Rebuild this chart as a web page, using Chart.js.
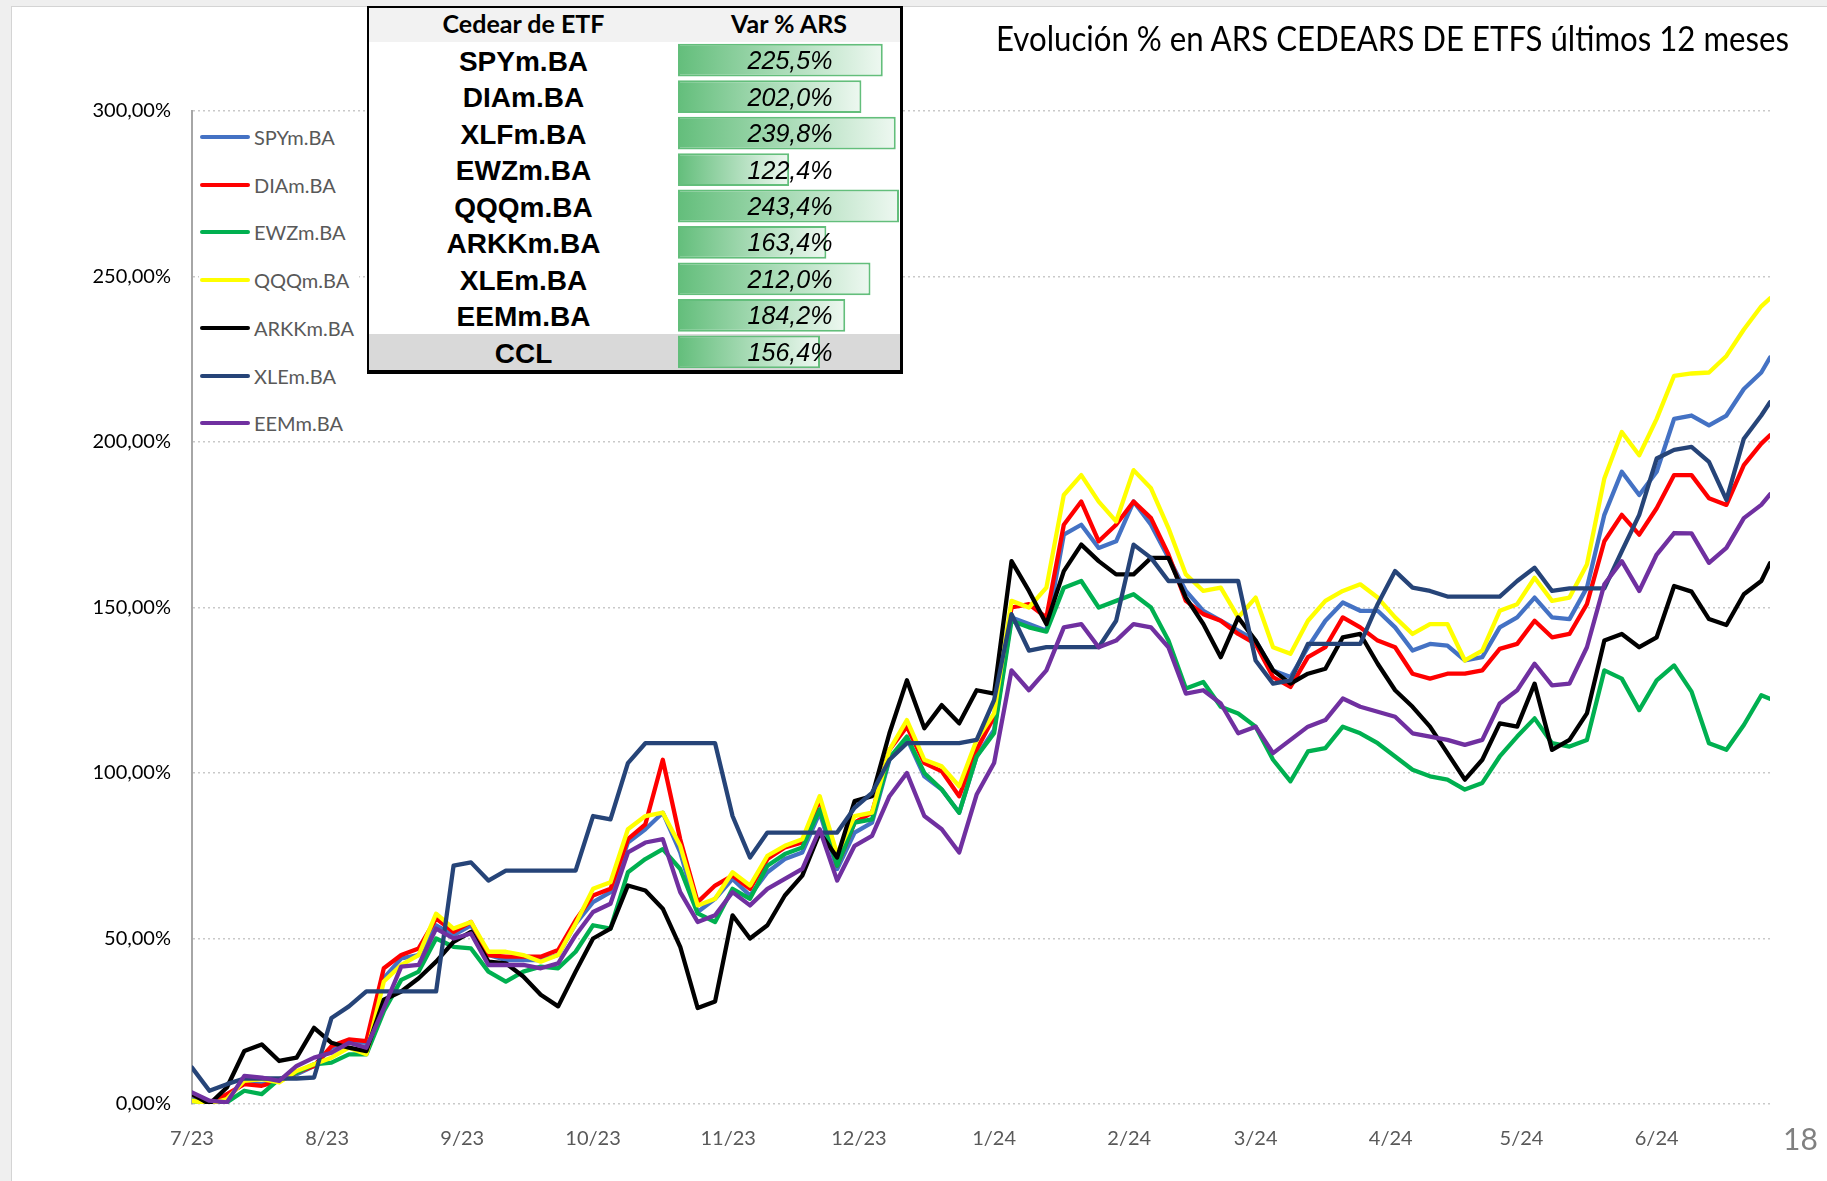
<!DOCTYPE html>
<html><head><meta charset="utf-8">
<script src="https://cdn.jsdelivr.net/npm/chart.js@4.4.1/dist/chart.umd.min.js"></script>
<style>
html,body{margin:0;padding:0;width:1827px;height:1181px;overflow:hidden;background:#efefef;}
#slide{position:absolute;left:11px;top:6px;width:1816px;height:1175px;background:#fff;border-left:1px solid #d4d4d4;border-top:1px solid #d4d4d4;}
#chart{position:absolute;left:0;top:0;z-index:1;}
#legend{position:absolute;left:199px;top:118px;width:160px;height:322px;background:#fff;z-index:2;}
.lg{position:absolute;left:0;height:24px;width:160px;}
.lg span.ln{position:absolute;left:1px;top:10px;width:50px;height:4px;border-radius:2px;}
.lg span.tx{position:absolute;left:55px;top:0;font:20px Lato,"Open Sans",sans-serif;color:#595959;line-height:24px;white-space:nowrap;}
#tbl{position:absolute;left:367px;top:6px;width:536px;height:368px;box-sizing:border-box;border:2px solid #000;border-right-width:3px;border-bottom-width:4px;background:#fff;z-index:2;}
#tbl .hdr{position:absolute;left:0;top:0;width:531px;height:34px;background:#f2f2f2;}
#tbl .hdr div{position:absolute;top:0;height:34px;line-height:34px;text-align:center;font:bold 25px Lato,"Open Sans",sans-serif;color:#000;}
#tbl .row{position:absolute;left:0;width:531px;}
#tbl .row .nm{position:absolute;left:0;top:0;width:309px;height:100%;text-align:center;font:bold 28px "Liberation Sans",Arial,sans-serif;color:#000;}
#bars{position:absolute;left:309px;top:34px;}
#title{position:absolute;left:996px;top:16px;font:35px Lato,"Open Sans",sans-serif;color:#000;white-space:nowrap;transform-origin:0 0;z-index:2;}
#pagenum{position:absolute;left:1783px;top:1120px;font:30px Lato,"Open Sans",sans-serif;color:#808080;z-index:2;}
</style></head><body>
<div id="slide"></div>
<canvas id="chart" width="1827" height="1181"></canvas>
<div id="legend"></div>
<div id="tbl"><div class="hdr"><div style="left:0;width:309px">Cedear de ETF</div><div style="left:309px;width:222px">Var % ARS</div></div><canvas id="bars" width="222" height="328"></canvas></div>
<div id="title">Evolución % en ARS CEDEARS DE ETFS últimos 12 meses</div>
<div id="pagenum">18</div>
<script>
// ---- data ----
const days = [0,4,8,12,16,20,24,28,32,36,40,44,48,52,56,60,64,68,72,76,80,84,88,92,96,100,104,108,112,116,120,124,128,132,136,140,144,148,152,156,160,164,168,172,176,180,184,188,192,196,200,204,208,212,216,220,224,228,232,236,240,244,248,252,256,260,264,268,272,276,280,284,288,292,296,300,304,308,312,316,320,324,328,332,336,340,344,348,352,356,360,362];
const monthStarts = [0,31,62,92,123,153,184,215,244,275,305,336];
const monthLabels = ['7/23','8/23','9/23','10/23','11/23','12/23','1/24','2/24','3/24','4/24','5/24','6/24'];
const seriesNames = ['SPYm.BA','DIAm.BA','EWZm.BA','QQQm.BA','ARKKm.BA','XLEm.BA','EEMm.BA'];
const seriesColors = ['#4472C4','#FF0000','#00B050','#FFFF00','#000000','#264478','#7030A0'];

const spy = [2,0,2,6.5,6,7,9,11.5,17,19,18.5,38,44,45,54,51,
 54,45,43.5,43.5,43.5,45,54.5,61,64,79,83,88,76,58,62,
 68,63,70,74,76,88,71,82,85,104,110.5,99,95,88,105,113,
 147,145,143,172,175,168,170,182,175,165,155,149,146,143,140,131,
 129,138,146,151.5,149,149,144,137,139,138.5,134,135,144,
 147,153,147,146.5,156,178,191,184,191,207,208,205,208,216,221,225.5];
const dia = [3,0,3,6,5.5,7,9.5,11.5,17.5,19.5,19,41,45,47,56,52,
 55,45,44.5,44.5,44.5,46.5,55.5,63,65,80,84.5,104,80,61,66,
 69,65,74,77.5,79,92,72,85,88,107,114,103,100.5,93,107,117,
 150,151,147,175,182,170,175,182,177,166,152,148,146,142,139,129,
 126,135,138,147,144,140,138,130,128.5,130,130,131,137.5,
 139,146,141,142,151,170,178,172,180,190,190,183,181,193,199.5,202];
const ewz = [1,0,0.5,4,3,7.5,9.5,12,12.5,15,15,28,37.5,40,50,47.5,
 47,40,37,40,41.5,41,46,54,53,70,74,77,71,57.6,55,
 65,62,72,75.5,77.5,89,72,85,86,104.5,111,100,95,88,105,112,
 146,144,142.7,156,158,150,152,154,150,140,125.5,127.5,120,118,114,104,
 97.5,106.5,107.5,114,112,109,105,101,99,98,95,97,105,
 111,116.5,109,108,110,131,128.5,119,128,132.5,124.6,109,107,114.5,123.5,122.4];
const qqq = [1,0,1.5,7,7.5,6.5,10,12,14,17,15,37,42,45,57.5,53,
 55,46,46,45,43,45,54.5,65,67,83,87,88,78,60,62,
 70,66,75,78,80,93,75.5,87,88,107,116,104,102,96,110,118,
 152,150,156,184,190,182,176,191.5,186,174,160,155,156,147,153,138,
 136,146,152,155,157,153,147,142,145,145,134,137,149,
 151,159,152,153,163,189,203,196,207,220,220.7,221,226,234,241,243.4];
const arkk = [3,0,5,16,18,13,14,23,18.5,17,16,31.5,34,38,43,49,
 52,43,42.5,38.5,33,29.5,40,50,53,66,64.5,59,47.5,29,31,
 57,50,54,63,69,82,74.5,91.5,93,112,128,113.5,120.5,115,125,124,
 164,155,145,161,169,164,160,160,165,165,153,145,135,147,140,131,
 127,130,131.5,141,142,133,125,120,114,106,98,104,115,
 114,127,107,110,118,140,142,138,141,156.5,154.8,146.5,144.7,154,158,163.4];
const xle = [11,4,6,7.7,7.7,7.7,7.7,8,26,29.5,34,34,34,34,34,72,
 73,67.5,70.5,70.5,70.5,70.5,70.5,87,86,103,109,109,109,109,109,
 87,74.5,82,82,82,82,82,89.5,94,104,109,109,109,109,110,122,
 148,137,138,138,138,138,146,169,165,158,158,158,158,158,134,127,
 128,139,139,139,139,151,161,156,155,153.3,153.3,153.3,153.3,
 158,162,155,155.8,155.8,155.8,167,178,195,197.6,198.5,194,182.5,201,208,212];
const eem = [3.5,1,0.5,8.5,8,7,11.5,14,15.5,18.5,17,29,41.5,42,53,50,
 51.5,42,42,42,41,42.5,51,58,60.5,76,79,80,64,55,57,
 64,60,65,68,71,83,67.5,78,81,93,100,87,83,76,93.5,103,
 131,125,131,144,145,138,140,145,144,138,124,125,121,112,114,106,
 110,114,116,122.5,120,118.5,117,112,111,110,108.5,110,121,
 125,133,126.5,127,138,157,164,155,166,172.5,172.4,163.5,168,177,181,184.2];

const tableNames = ['SPYm.BA','DIAm.BA','XLFm.BA','EWZm.BA','QQQm.BA','ARKKm.BA','XLEm.BA','EEMm.BA','CCL'];
const tableValues = [225.5,202.0,239.8,122.4,243.4,163.4,212.0,184.2,156.4];

// ---- main line chart ----
const seriesData = [spy, dia, ewz, qqq, arkk, xle, eem];
const datasets = seriesNames.map((n,i)=>({
  label:n,
  data: days.map((d,k)=>({x:d, y:seriesData[i][k]})),
  borderColor: seriesColors[i], backgroundColor: seriesColors[i],
  borderWidth:4.3, pointRadius:0, tension:0, fill:false,
  borderJoinStyle:'round', borderCapStyle:'round',
  order: seriesNames.length-1-i
}));
new Chart(document.getElementById('chart').getContext('2d'), {
  type:'line',
  data:{datasets},
  options:{
    responsive:false, animation:false, events:[],
    layout:{padding:{top:111,right:57,left:0,bottom:0}},
    plugins:{legend:{display:false}, tooltip:{enabled:false}},
    scales:{
      x:{type:'linear', min:0, max:362,
         afterBuildTicks:(s)=>{ s.ticks = monthStarts.map(v=>({value:v})); },
         afterFit:(s)=>{ s.height = 77; },
         grid:{display:false}, border:{display:false},
         ticks:{autoSkip:false, maxRotation:0, minRotation:0, padding:15, color:'#595959',
                font:{family:'Lato', size:20},
                callback:(v)=>monthLabels[monthStarts.indexOf(v)]}},
      y:{min:0, max:300,
         afterFit:(s)=>{ s.width = 192; },
         ticks:{stepSize:50, padding:21, color:'#000000', font:{family:'Lato', size:20},
                callback:(v)=>v.toFixed(2).replace('.',',')+'%'},
         grid:{color:'#c9c9c9', lineWidth:1.5, drawTicks:false},
         border:{display:true, color:'#a6a6a6', width:2, dash:[2,3]}}
    }
  }
});

// ---- legend ----
const lg = document.getElementById('legend');
seriesNames.forEach((n,i)=>{
  const d = document.createElement('div'); d.className='lg';
  d.style.top = (7 + i*47.7) + 'px';
  d.innerHTML = '<span class="ln" style="background:'+seriesColors[i]+'"></span><span class="tx">'+n+'</span>';
  lg.appendChild(d);
});

// ---- table rows ----
const tbl = document.getElementById('tbl');
const rowH = 328/tableNames.length;
tableNames.forEach((n,i)=>{
  const r = document.createElement('div'); r.className='row';
  r.style.top = (34 + i*rowH)+'px'; r.style.height = rowH+'px';
  if (n === 'CCL') r.style.background = '#d9d9d9';
  r.innerHTML = '<div class="nm" style="line-height:'+(rowH+3)+'px">'+n+'</div>';
  tbl.insertBefore(r, document.getElementById('bars'));
});

// ---- data bars ----
function barGrad(c){
  const ch = c.chart;
  if (!ch.chartArea || !ch.scales.x) return '#63BE7B';
  const xs = ch.scales.x;
  const x0 = xs.getPixelForValue(0), x1 = xs.getPixelForValue(c.raw);
  const g = ch.ctx.createLinearGradient(x0,0,x1,0);
  g.addColorStop(0,'#63BE7B'); g.addColorStop(1,'#eef8f1');
  return g;
}
const fmt = v => v.toFixed(1).replace('.',',')+'%';
const labelPlugin = {id:'vlabels', afterDatasetsDraw(ch){
  const c = ch.ctx; const meta = ch.getDatasetMeta(0);
  c.save(); c.font = 'italic 25px "Liberation Sans", Arial, sans-serif';
  c.fillStyle = '#000'; c.textAlign='center'; c.textBaseline='middle';
  meta.data.forEach((el,i)=>{ c.fillText(fmt(tableValues[i]), 112, el.y+2); });
  c.restore();
}};
new Chart(document.getElementById('bars').getContext('2d'), {
  type:'bar',
  data:{labels:tableNames, datasets:[{data:tableValues, backgroundColor:barGrad, borderColor:'#63BE7B',
        borderWidth:2, borderSkipped:false, barPercentage:1, categoryPercentage:0.9}]},
  options:{indexAxis:'y', responsive:false, animation:false, events:[],
    layout:{padding:0},
    plugins:{legend:{display:false}, tooltip:{enabled:false}},
    scales:{x:{display:false, min:0, max:244.5}, y:{display:false}}},
  plugins:[labelPlugin]
});

// ---- title width fit ----
const t = document.getElementById('title');
const w = t.getBoundingClientRect().width;
t.style.transform = 'scaleX(' + (793/w) + ')';
</script>
</body></html>
